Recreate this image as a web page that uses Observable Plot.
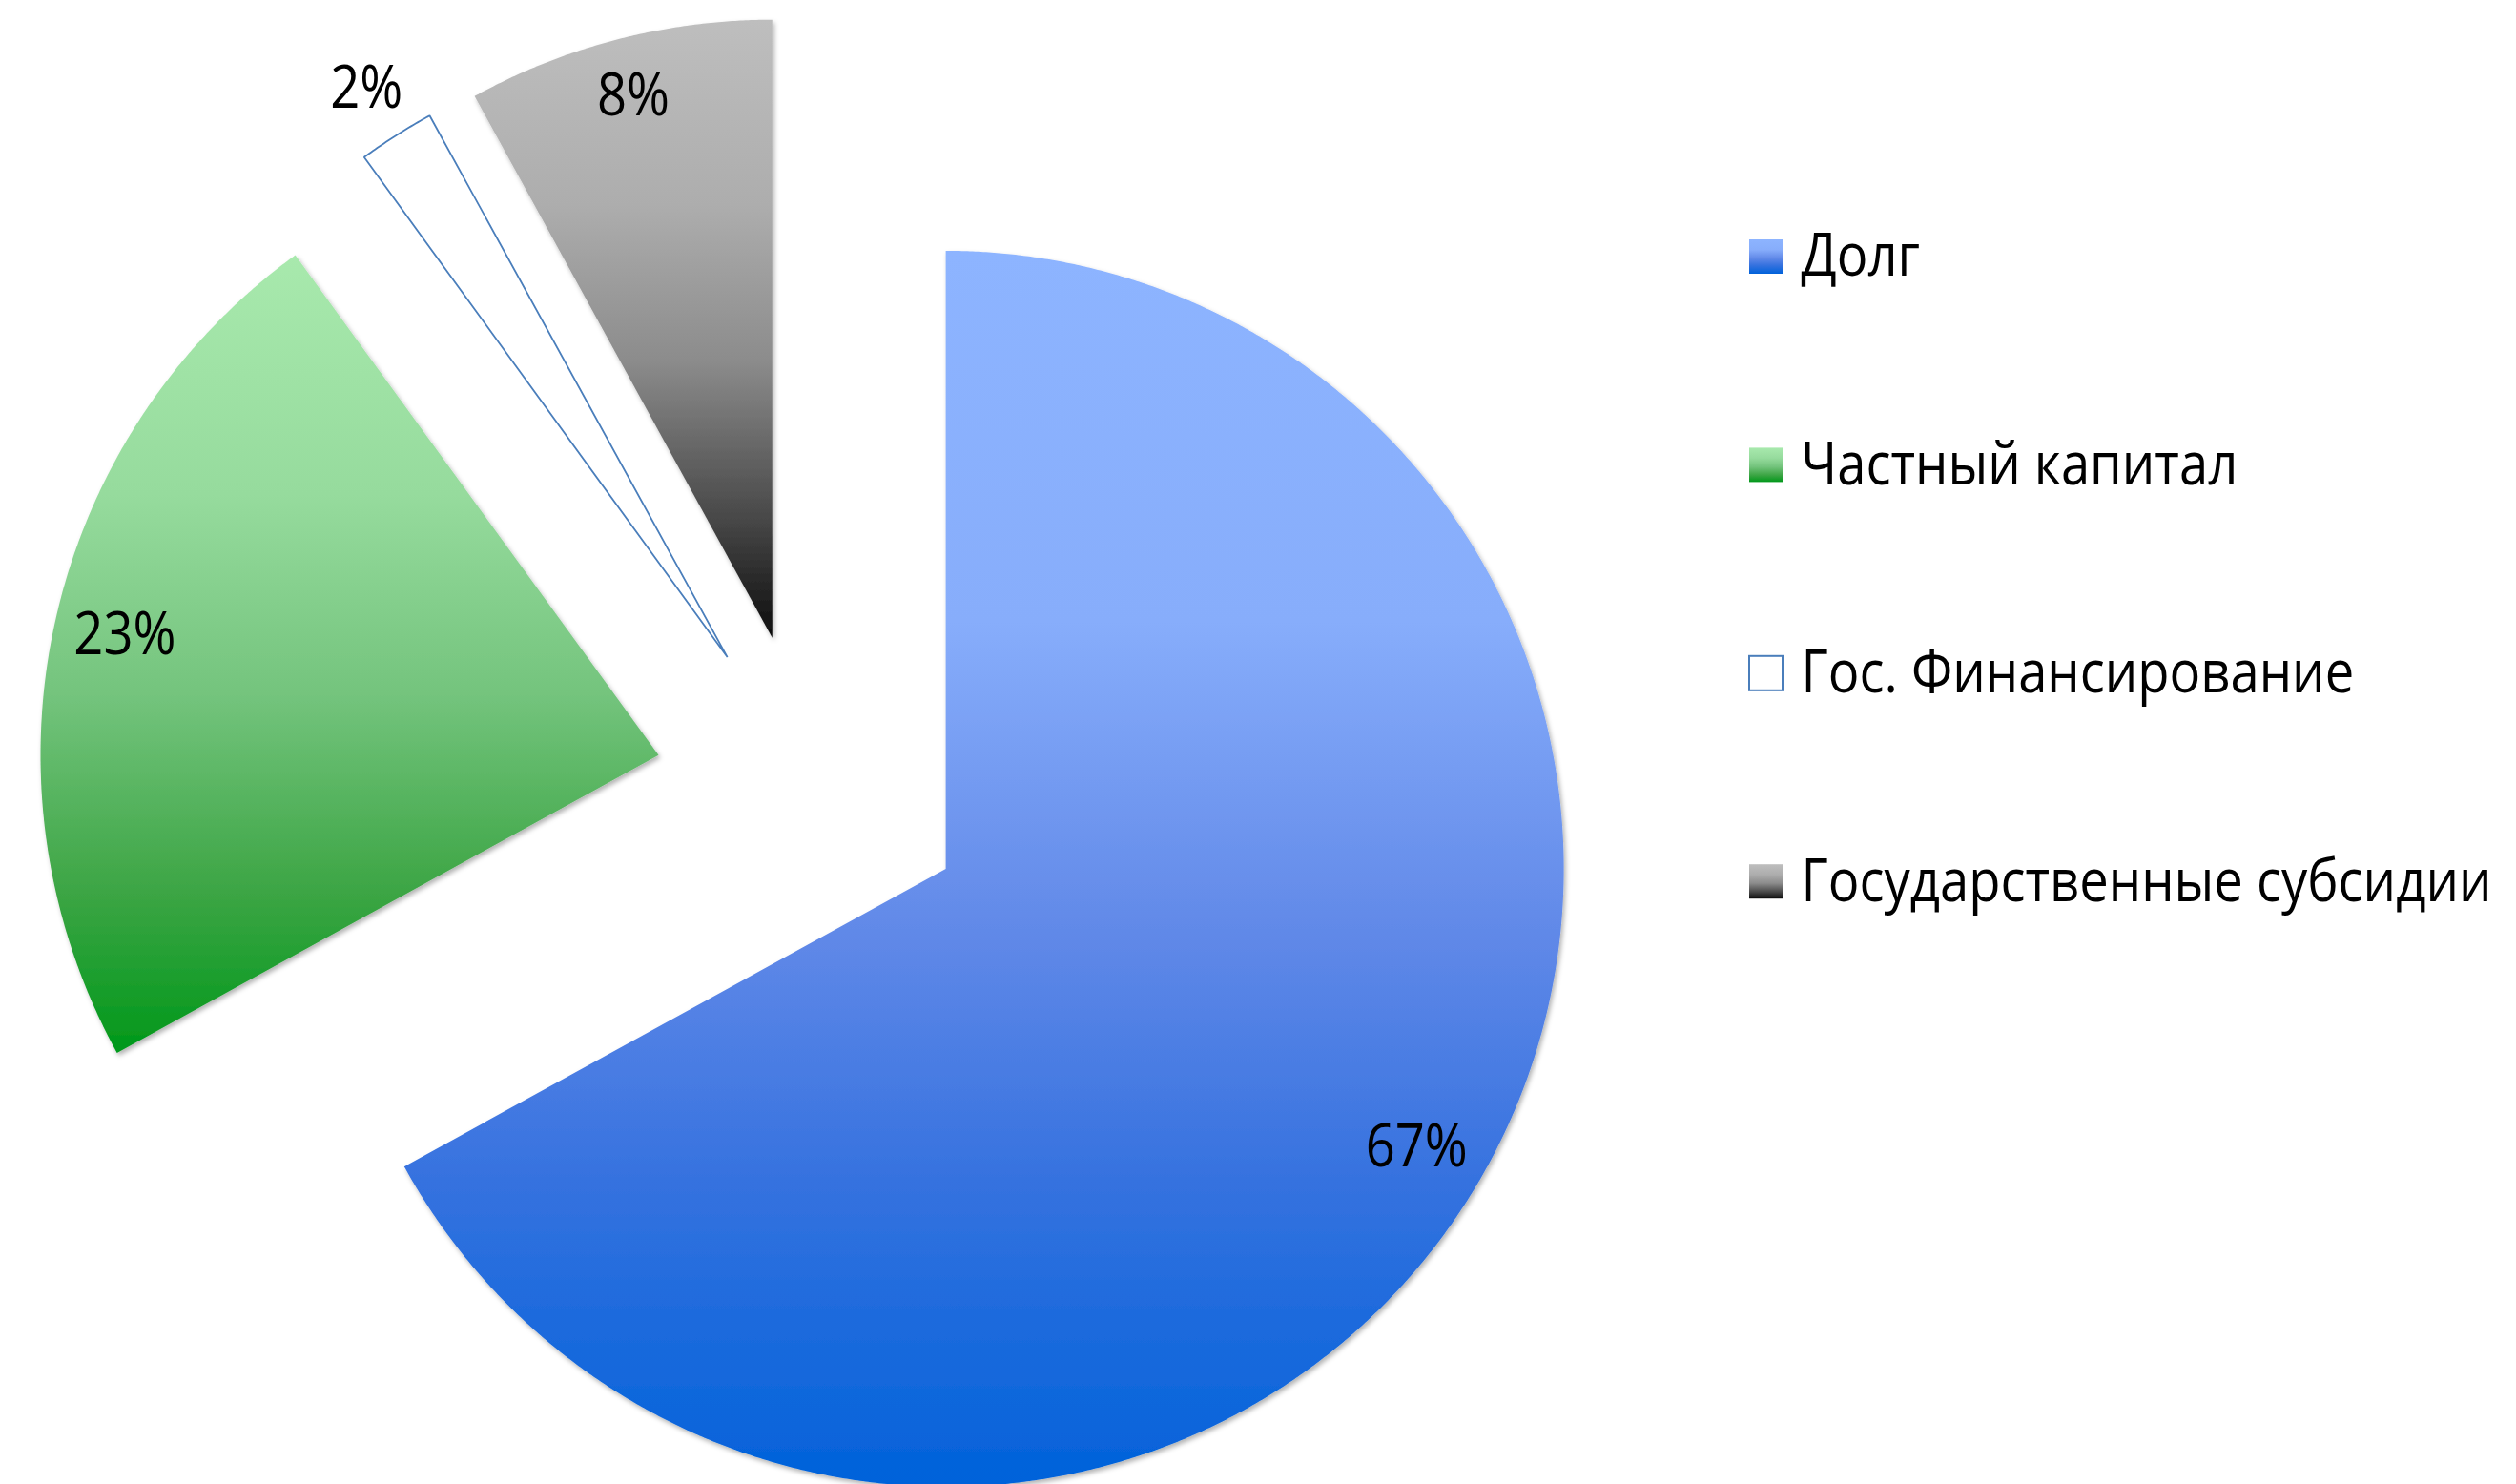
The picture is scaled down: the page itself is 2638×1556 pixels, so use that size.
<!DOCTYPE html>
<html><head><meta charset="utf-8">
<script src="https://cdn.jsdelivr.net/npm/d3@7"></script>
<script src="https://cdn.jsdelivr.net/npm/@observablehq/plot@0.6"></script>
<style>
html,body{margin:0;padding:0;background:#fff;overflow:hidden;}
#chart svg{display:block;}
</style>
</head><body>
<svg width="0" height="0" style="position:absolute">
<defs>
 <linearGradient id="g0" x1="0" y1="0" x2="0" y2="1">
  <stop offset="0" stop-color="#8db4ff"/><stop offset="0.3" stop-color="#87adfb"/><stop offset="0.55" stop-color="#6189e8"/><stop offset="0.75" stop-color="#3672df"/><stop offset="1" stop-color="#0062da"/></linearGradient>
 <linearGradient id="g1" x1="0" y1="0" x2="0" y2="1">
  <stop offset="0" stop-color="#a8e9ad"/><stop offset="0.3" stop-color="#96db9d"/><stop offset="0.55" stop-color="#74c47d"/><stop offset="0.8" stop-color="#3ca544"/><stop offset="1" stop-color="#00981a"/></linearGradient>
 <linearGradient id="g3" x1="0" y1="0" x2="0" y2="1">
  <stop offset="0" stop-color="#bebebe"/><stop offset="0.3" stop-color="#adadad"/><stop offset="0.55" stop-color="#8c8c8c"/><stop offset="0.8" stop-color="#4a4a4a"/><stop offset="1" stop-color="#0d0d0d"/></linearGradient>
 <filter id="sh" x="-10%" y="-10%" width="120%" height="120%"><feDropShadow dx="2" dy="3" stdDeviation="2.5" flood-color="#000" flood-opacity="0.3"/></filter>
</defs></svg>
<div id="chart"></div>
<script>
// ---- data ----
const categories = ["Долг", "Частный капитал", "Гос. Финансирование", "Государственные субсидии"];
const shares = [67, 23, 2, 8];
const labels = ["67%", "23%", "2%", "8%"];

// ---- styles ----
const fills = ["url(#g0)", "url(#g1)", "#ffffff", "url(#g3)"];
const strokes = ["none", "none", "#4a7ebb", "none"];
const FONT = "'Open Sans', 'Noto Sans', sans-serif";

// ---- layout ----
const W = 2638, H = 1556;
const cx = 850, cy = 827, R = 648;   // pie centre and radius (px)
const explode = 0.253;               // explosion as fraction of radius

const arcs = d3.pie().sort(null).value(d => d)(shares);
const slices = arcs.map((p, i) => {
  const mid = (p.startAngle + p.endAngle) / 2;
  const span = p.endAngle - p.startAngle;
  const ox = explode * Math.sin(mid), oy = explode * Math.cos(mid);
  const pts = [{x: ox, y: oy}];
  const n = Math.max(4, Math.ceil(span / (Math.PI / 720)));
  for (let k = 0; k <= n; k++) {
    const a = p.startAngle + span * k / n;
    pts.push({x: ox + Math.sin(a), y: oy + Math.cos(a)});
  }
  const lr = span < 0.3 ? 1.09 : span < 1 ? 0.905 : 0.885;
  return {i, mid, ox, oy, pts, lx: ox + lr * Math.sin(mid), ly: oy + lr * Math.cos(mid), label: labels[i]};
});

const px2x = px => (px - cx) / R;
const px2y = py => (cy - py) / R;
const legend = categories.map((c, i) => {
  const yc = 269 + i * 218.4;
  return {i, cat: c, x1: px2x(1834), x2: px2x(1869), y1: px2y(yc - 18), y2: px2y(yc + 18), tx: px2x(1888), ty: px2y(yc)};
});

const sliceMarks = slices.map(s => Plot.line(s.pts, {x: "x", y: "y", curve: "linear-closed",
  fill: fills[s.i], stroke: strokes[s.i], strokeWidth: 1.8, strokeLinejoin: "miter"}));
const pctMark = Plot.text(slices, {x: "lx", y: "ly", text: "label", fontSize: 62, fill: "black", textAnchor: "middle", lineAnchor: "middle"});
const legSq = legend.map(d => Plot.rect([d], {x1: "x1", x2: "x2", y1: "y1", y2: "y2",
  fill: fills[d.i], stroke: strokes[d.i], strokeWidth: 2}));
const legText = Plot.text(legend, {x: "tx", y: "ty", text: "cat", fontSize: 62, fill: "black", textAnchor: "start", lineAnchor: "middle"});

const chart = Plot.plot({
  width: W, height: H, margin: 0,
  x: {domain: [-cx / R, (W - cx) / R], range: [0, W], axis: null},
  y: {domain: [-(H - cy) / R, cy / R], range: [H, 0], axis: null},
  style: {background: "white", fontFamily: FONT},
  marks: [...sliceMarks, pctMark, ...legSq, legText]
});
document.getElementById("chart").appendChild(chart);

const groups = [...chart.querySelectorAll(':scope > g')];
// shadows on filled slices
groups.slice(0, 4).forEach((g, k) => {
  if (strokes[k] === "none") g.querySelectorAll("path").forEach(p => p.setAttribute("filter", "url(#sh)"));
});
// condense text to match the narrow original typeface
const legTexts = [...groups[groups.length - 1].querySelectorAll("text")];
const pctTexts = [...groups[4].querySelectorAll("text")];
if (legTexts.length === 4) {
  const k = 724 / legTexts[3].getComputedTextLength();
  [...legTexts, ...pctTexts].forEach(t => {
    const L = t.getComputedTextLength();
    t.setAttribute("textLength", L * k);
    t.setAttribute("lengthAdjust", "spacingAndGlyphs");
  });
}
</script>
</body></html>
